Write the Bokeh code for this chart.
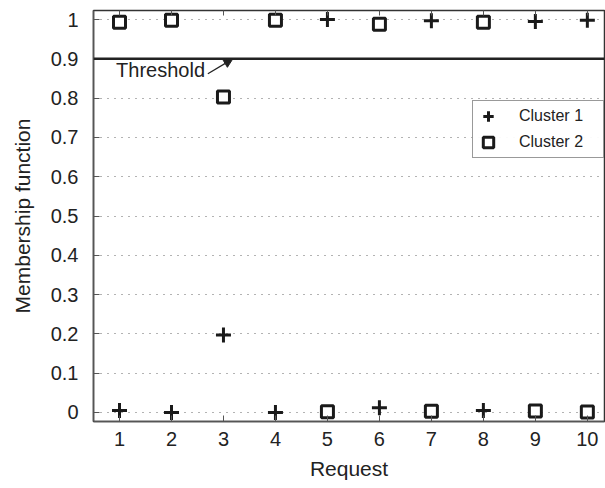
from bokeh.plotting import figure
from bokeh.models import (ColumnDataSource, Range1d, FixedTicker, LinearAxis, Span,
                          Label, Arrow, NormalHead, Legend, LegendItem)
from bokeh.embed import file_html
from bokeh.resources import INLINE

# Membership of each request in the two clusters
requests = [1, 2, 3, 4, 5, 6, 7, 8, 9, 10]
cluster1 = [0.005, 0.0, 0.197, 0.0, 1.0, 0.012, 0.997, 0.005, 0.995, 0.998]
cluster2 = [0.993, 0.998, 0.803, 0.998, 0.002, 0.988, 0.003, 0.993, 0.004, 0.001]
threshold = 0.9

y_ticks = [0, 0.1, 0.2, 0.3, 0.4, 0.5, 0.6, 0.7, 0.8, 0.9, 1]
y_tick_labels = ["0", "0.1", "0.2", "0.3", "0.4", "0.5", "0.6", "0.7", "0.8", "0.9", "1"]

FONT = "Liberation Sans"
INK = "#222222"

src = ColumnDataSource(dict(x=requests, c1=cluster1, c2=cluster2))

p = figure(width=605, height=488, output_backend="svg", toolbar_location=None,
           x_range=Range1d(0.5, 10.33), y_range=Range1d(-0.023, 1.023),
           min_border_left=93, min_border_right=1, min_border_top=10,
           min_border_bottom=67)
p.background_fill_color = "white"
p.border_fill_color = "white"
p.outline_line_color = "#333333"
p.outline_line_width = 1.5

# axes: ticks pointing inward
for ax in (p.xaxis[0], p.yaxis[0]):
    ax.major_tick_in = 6
    ax.major_tick_out = 0
    ax.minor_tick_line_color = None
    ax.axis_line_color = "#555555"
    ax.axis_line_width = 1.5
    ax.major_tick_line_color = "#555555"
    ax.major_label_text_font = FONT
    ax.major_label_text_font_size = "20px"
    ax.major_label_text_color = INK
    ax.axis_label_text_font = FONT
    ax.axis_label_text_font_size = "21px"
    ax.axis_label_text_font_style = "normal"
    ax.axis_label_text_color = INK

p.xaxis.ticker = FixedTicker(ticks=requests)
p.xaxis.major_label_standoff = 10
p.xaxis.axis_label = "Request"
p.xaxis.axis_label_standoff = 8

p.yaxis.ticker = FixedTicker(ticks=y_ticks)
p.yaxis.major_label_overrides = {t: s for t, s in zip(y_ticks, y_tick_labels)}
p.yaxis.major_label_standoff = 15
p.yaxis.axis_label = "Membership function"
p.yaxis.axis_label_standoff = 14

# top axis: tick marks only
top = LinearAxis(ticker=FixedTicker(ticks=requests), major_tick_in=5, major_tick_out=0,
                 minor_tick_line_color=None, major_label_overrides={r: "" for r in requests},
                 major_label_standoff=0, axis_line_color="#333333",
                 major_tick_line_color="#555555")
p.add_layout(top, "above")

# dotted horizontal grid only
p.xgrid.grid_line_color = None
p.ygrid.ticker = FixedTicker(ticks=y_ticks)
p.ygrid.grid_line_color = "#666666"
p.ygrid.grid_line_dash = "1 6"
p.ygrid.grid_line_width = 1

# threshold line with its annotation
p.add_layout(Span(location=threshold, dimension="width", line_color=INK,
                  line_width=2.5))
p.add_layout(Label(x=1.79, y=0.872, text="Threshold", text_font=FONT,
                   text_font_size="20px", text_color=INK,
                   text_align="center", text_baseline="middle"))
p.add_layout(Arrow(x_start=2.7, y_start=0.862, x_end=3.18, y_end=threshold,
                   line_color=INK, line_width=1.3,
                   end=NormalHead(size=9, fill_color=INK, line_color=INK)))

r1 = p.scatter("x", "c1", source=src, marker="cross", size=15, line_width=3,
               line_color="#1a1a1a")
r2 = p.scatter("x", "c2", source=src, marker="square", size=12, line_width=3,
               line_color="#1a1a1a", fill_color="white")

legend = Legend(items=[LegendItem(label="Cluster 1", renderers=[r1]),
                       LegendItem(label="Cluster 2", renderers=[r2])],
                location=(379, 263), label_text_font=FONT, label_text_font_size="16px",
                label_text_color=INK, glyph_width=26, glyph_height=26,
                label_standoff=18, padding=2, spacing=-4, margin=0,
                border_line_color="#333333", border_line_width=1.3,
                label_width=82)
p.add_layout(legend)

open("out.html", "w").write(file_html(p, INLINE))
